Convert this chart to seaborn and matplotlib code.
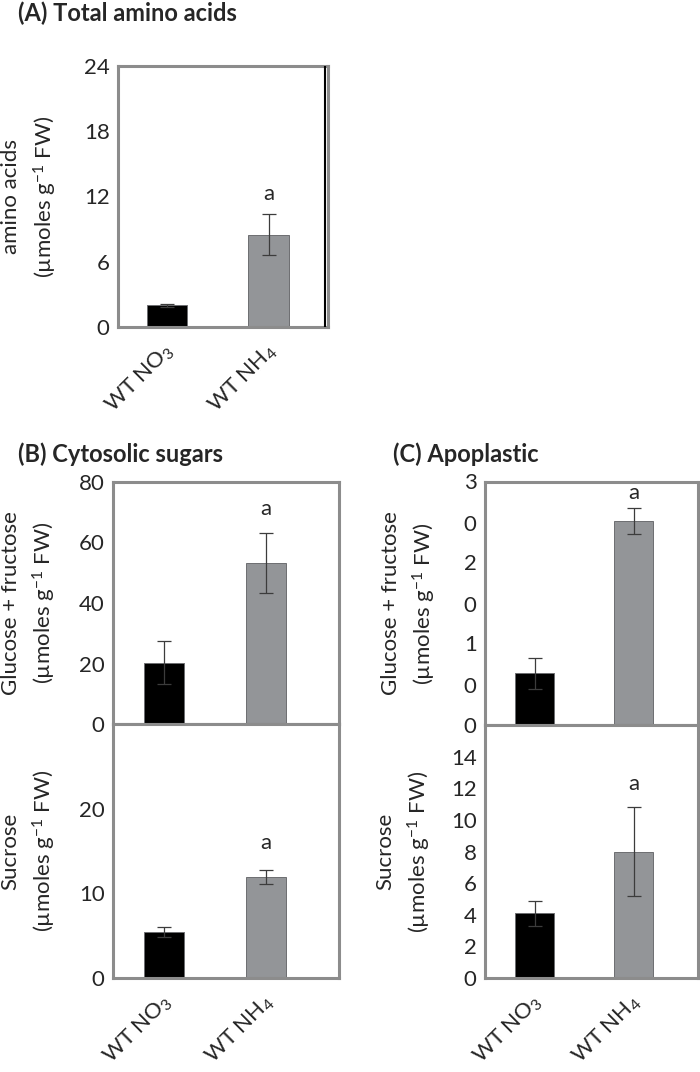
import numpy as np
import pandas as pd
import matplotlib
matplotlib.use('Agg')
import matplotlib.pyplot as plt
import matplotlib.transforms as mtransforms
import seaborn as sns

# data
groups = ['WT NO$_3$', 'WT NH$_4$']
bar_colors = ['#000000', '#939598']

amino_mean = [2.0, 8.5]
amino_err = [0.15, 1.9]
amino_ticks = [0, 6, 12, 18, 24]

cyto_gluc_mean = [20.3, 53.2]
cyto_gluc_err = [7.0, 9.8]
cyto_gluc_ticks = [0, 20, 40, 60, 80]

cyto_sucr_mean = [5.4, 11.9]
cyto_sucr_err = [0.6, 0.85]
cyto_sucr_ticks = [0, 10, 20]

apo_gluc_mean = [6.4, 25.2]
apo_gluc_err = [1.9, 1.6]
apo_gluc_ticks = [0, 10, 20, 30]
apo_gluc_ticklabels = ['0', '1\n0', '2\n0', '3\n0']

apo_sucr_mean = [4.1, 8.0]
apo_sucr_err = [0.8, 2.8]
apo_sucr_ticks = [0, 2, 4, 6, 8, 10, 12, 14]

sig_letters = ['', 'a']

sns.set_style('white')
plt.rcParams['font.family'] = ['Lato', 'DejaVu Sans']
plt.rcParams['mathtext.fontset'] = 'custom'
plt.rcParams['mathtext.rm'] = 'Lato'
plt.rcParams['mathtext.it'] = 'Lato:italic'
plt.rcParams['mathtext.bf'] = 'Lato:bold'

FS = 16
LFS = 16
SPINE = '#8c8c8c'
UNIT = 'µmoles g$^{-1}$ FW'


def px(l, t, r, b):
    W, H = 700, 1072
    return [l / W, 1 - b / H, (r - l) / W, (b - t) / H]


def draw_panel(ax, means, errs, ylim, ticks, sig_y, xlim, ylabel, labx,
               show_x=True, ticklabels=None):
    df = pd.DataFrame({'group': groups, 'value': means})
    sns.barplot(data=df, x='group', y='value', hue='group', palette=bar_colors,
                width=0.4, legend=False, edgecolor='#6d6e71', linewidth=0.7,
                saturation=1, ax=ax)
    ax.errorbar(range(len(means)), means, yerr=errs, fmt='none', ecolor='#3c3c3c',
                elinewidth=0.9, capsize=5, capthick=0.9, zorder=3)
    for i, s in enumerate(sig_letters):
        if s:
            ax.text(i, sig_y, s, ha='center', va='center', fontsize=FS)
    ax.set_xlim(*xlim)
    ax.set_ylim(*ylim)
    ax.set_yticks(ticks)
    if ticklabels is not None:
        ax.set_yticklabels(ticklabels)
    ax.tick_params(axis='y', direction='out', length=4, width=0.8, color=SPINE,
                   labelsize=FS, pad=2)
    ax.set_xticks([0, 1])
    ax.set_xticks([xlim[0], 0.5], minor=True)
    ax.tick_params(axis='x', which='major', length=0, pad=15, labelsize=FS)
    ax.tick_params(axis='x', which='minor', length=5, width=0.8, color=SPINE,
                   direction='out')
    if show_x:
        ax.set_xticklabels(groups)
        nudge = mtransforms.ScaledTranslation(3 / 72, 0, ax.figure.dpi_scale_trans)
        for lab in ax.get_xticklabels():
            lab.set_rotation(45)
            lab.set_ha('right')
            lab.set_va('center')
            lab.set_rotation_mode('anchor')
            lab.set_transform(lab.get_transform() + nudge)
    else:
        ax.set_xticklabels([])
    ax.set_xlabel('')
    ax.set_ylabel(ylabel, fontsize=LFS, linespacing=1.5)
    ax.yaxis.set_label_coords(labx, 0.5)
    for sp in ax.spines.values():
        sp.set_visible(True)
        sp.set_color(SPINE)
        sp.set_linewidth(2.2)


fig = plt.figure(figsize=(7, 10.72), dpi=100)

# (A)
axA = fig.add_axes(px(118, 66, 328, 327))
draw_panel(axA, amino_mean, amino_err, (0, 24), amino_ticks, 12.2,
           (-0.48, 1.58), 'amino acids\n(' + UNIT + ')', -0.281)
axA.plot([0.985, 0.985], [0, 1], transform=axA.transAxes, color='black',
         lw=1.5, zorder=5)

# (B)
axB1 = fig.add_axes(px(113, 482, 339, 724))
draw_panel(axB1, cyto_gluc_mean, cyto_gluc_err, (0, 80), cyto_gluc_ticks, 71,
           (-0.5, 1.716), 'Glucose + fructose\n(' + UNIT + ')', -0.243,
           show_x=False)
axB2 = fig.add_axes(px(113, 724, 339, 978))
draw_panel(axB2, cyto_sucr_mean, cyto_sucr_err, (0, 30), cyto_sucr_ticks, 15.9,
           (-0.5, 1.716), 'Sucrose\n(' + UNIT + ')', -0.245)

# (C)
axC1 = fig.add_axes(px(485, 482, 698, 725))
draw_panel(axC1, apo_gluc_mean, apo_gluc_err, (0, 30), apo_gluc_ticks, 28.7,
           (-0.5, 1.65), 'Glucose + fructose\n(' + UNIT + ')', -0.22,
           show_x=False, ticklabels=apo_gluc_ticklabels)
shift = mtransforms.ScaledTranslation(0, 6.5 / 72, fig.dpi_scale_trans)
for lab in axC1.get_yticklabels():
    if '\n' in lab.get_text():
        lab.set_va('top')
        lab.set_linespacing(2.4)
        lab.set_transform(lab.get_transform() + shift)
axC2 = fig.add_axes(px(485, 725, 698, 978))
draw_panel(axC2, apo_sucr_mean, apo_sucr_err, (0, 16), apo_sucr_ticks, 12.3,
           (-0.5, 1.65), 'Sucrose\n(' + UNIT + ')', -0.244)

fig.text(18 / 700, 1 - 13 / 1072, '(A) Total amino acids', fontsize=17,
         fontweight='bold', va='center')
fig.text(18 / 700, 1 - 454 / 1072, '(B) Cytosolic sugars', fontsize=17,
         fontweight='bold', va='center')
fig.text(393 / 700, 1 - 454 / 1072, '(C) Apoplastic', fontsize=17,
         fontweight='bold', va='center')

fig.savefig('out.png', dpi=100)
plt.close(fig)
